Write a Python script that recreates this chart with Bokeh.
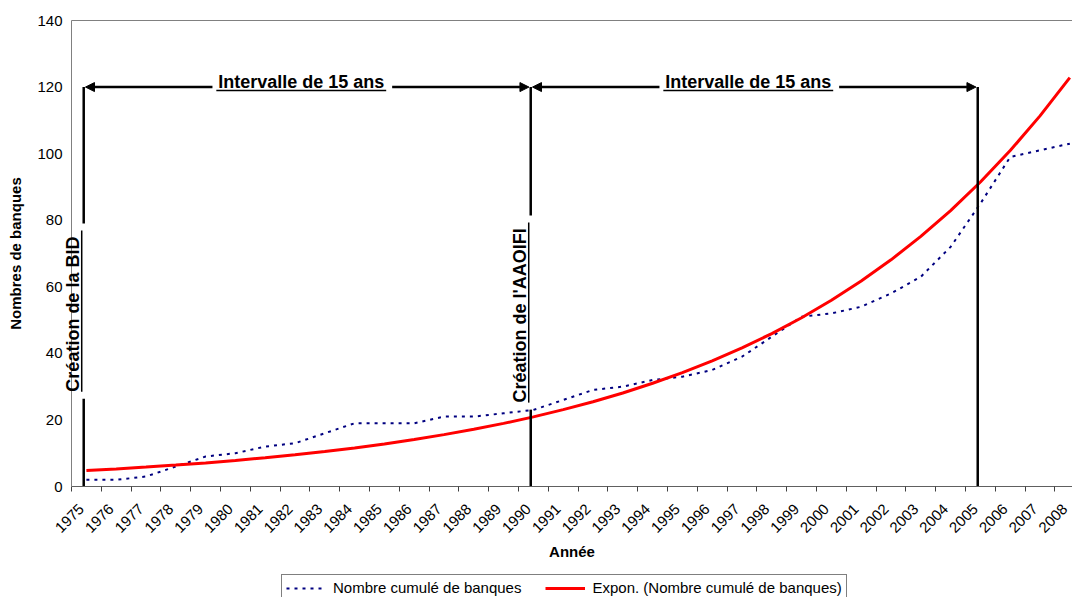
import math
from bokeh.plotting import figure
from bokeh.models import (Range1d, FixedTicker, LinearAxis, Label, Arrow, NormalHead,
                          Legend, LegendItem, PrintfTickFormatter)
from bokeh.embed import file_html
from bokeh.resources import INLINE

# ---------------- data ----------------
years = list(range(1975, 2009))
banks = [2, 2, 3, 6, 9, 10, 12, 13, 16, 19, 19, 19, 21, 21, 22, 23, 26, 29, 30, 32,
         33, 35, 39, 45, 51, 52, 54, 58, 63, 72, 85, 99, 101, 103]
trend = [4.79, 5.28, 5.83, 6.43, 7.09, 7.83, 8.63, 9.53, 10.51, 11.60, 12.80, 14.12,
         15.58, 17.19, 18.96, 20.92, 23.09, 25.47, 28.10, 31.01, 34.21, 37.75, 41.65,
         45.95, 50.70, 55.94, 61.72, 68.10, 75.14, 82.90, 91.47, 100.92, 111.35, 122.86]
y_ticks = [0, 20, 40, 60, 80, 100, 120, 140]
series_names = ["Nombre cumulé de banques", "Expon. (Nombre cumulé de banques)"]
event_years = [1975, 1990, 2005]
event_labels = ["Création  de la BID", "Création  de l'AAOIFI"]
event_label_span = [(28.5, 76.9), (25.2, 79.3)]
event_top = 120
interval_label = "Intervalle de 15 ans"
x_title = "Année"
y_title = "Nombres de banques"

FONT = "Liberation Sans"
W, H = 1072, 597
LEFT, TOP, ZERO_Y = 71, 20, 486          # page pixels: plot-area left, value 140, value 0
Y_TOP = y_ticks[-1]
PX_PER_UNIT = (ZERO_Y - TOP) / float(Y_TOP)
Y_MIN = -(H - ZERO_Y) / PX_PER_UNIT       # frame reaches the bottom of the page
Y_MAX = Y_TOP + TOP / PX_PER_UNIT         # ... and the top of the page
AX0, X1 = years[0] - 0.5, 2008.09         # plot-area left edge, right edge
PX_PER_YEAR = (W - LEFT) / (X1 - AX0)
X0 = AX0 - LEFT / PX_PER_YEAR             # frame reaches the left of the page
LABEL_SHIFT = 5 / PX_PER_YEAR             # rotated year labels sit a little left

p = figure(width=W, height=H, output_backend="svg", toolbar_location=None,
           x_range=Range1d(X0, X1), y_range=Range1d(Y_MIN, Y_MAX),
           min_border_left=0, min_border_right=0, min_border_top=0,
           min_border_bottom=0, outline_line_color=None)
p.grid.grid_line_color = None
p.background_fill_color = "white"
p.border_fill_color = "white"

# x axis, pinned at value 0
xa = p.xaxis[0]
xa.fixed_location = 0
xa.bounds = (AX0, X1)
xa.ticker = FixedTicker(ticks=[y - LABEL_SHIFT for y in years],
                        minor_ticks=[y - 0.5 for y in years] + [years[-1] + 0.5])
xa.formatter = PrintfTickFormatter(format="%.0f")
xa.major_tick_out = 0
xa.major_tick_in = 0
xa.minor_tick_out = 5
xa.minor_tick_in = 0
xa.minor_tick_line_color = "#404040"
xa.axis_line_color = "#606060"
xa.major_label_orientation = math.pi / 4
xa.major_label_text_font = FONT
xa.major_label_text_font_size = "15px"
xa.major_label_text_color = "black"
xa.major_label_standoff = 15
xa.axis_label = x_title
xa.axis_label_text_font = FONT
xa.axis_label_text_font_style = "bold"
xa.axis_label_text_font_size = "15px"
xa.axis_label_text_color = "black"
xa.axis_label_standoff = 3

# y axis, pinned at the plot-area left edge
ya = p.yaxis[0]
ya.fixed_location = AX0
ya.bounds = (0, Y_TOP)
ya.ticker = FixedTicker(ticks=y_ticks)
ya.major_tick_out = 0
ya.major_tick_in = 0
ya.minor_tick_out = 0
ya.minor_tick_in = 0
ya.axis_line_color = "#808080"
ya.major_label_text_font = FONT
ya.major_label_text_font_size = "15px"
ya.major_label_text_color = "black"
ya.major_label_standoff = 9
ya.axis_label = y_title
ya.axis_label_text_font = FONT
ya.axis_label_text_font_style = "bold"
ya.axis_label_text_font_size = "15px"
ya.axis_label_text_color = "black"
ya.axis_label_standoff = 10

# top border of the plot area
top = LinearAxis(ticker=FixedTicker(ticks=[]), axis_line_color="#808080",
                 fixed_location=Y_TOP, bounds=(AX0, X1),
                 major_tick_out=0, major_tick_in=0, minor_tick_out=0, minor_tick_in=0,
                 major_label_text_font_size="0px")
p.add_layout(top, "above")

# series
r_blue = p.line(years, banks, line_color="#000080", line_width=2, line_dash="3 5")
r_red = p.line(years, trend, line_color="#ff0000", line_width=3)

# event lines (with gaps where the vertical labels sit)
shift = -0.09
gap = 7 / PX_PER_UNIT
x0s, y0s, x1s, y1s = [], [], [], []
for i, ey in enumerate(event_years):
    lx = ey + shift
    if i < len(event_labels):
        s, e = event_label_span[i]
        x0s += [lx, lx]; y0s += [0, e + gap]; x1s += [lx, lx]; y1s += [s - gap, event_top]
    else:
        x0s.append(lx); y0s.append(0); x1s.append(lx); y1s.append(event_top)
p.segment(x0s, y0s, x1s, y1s, line_color="black", line_width=2.5)

# vertical labels with underline
ul_x0, ul_y0, ul_x1, ul_y1 = [], [], [], []
for i, txt in enumerate(event_labels):
    lx = event_years[i] + shift
    s, e = event_label_span[i]
    p.add_layout(Label(x=lx - 10.5 / PX_PER_YEAR, y=s, text=txt, angle=math.pi / 2,
                       text_align="left", text_baseline="middle",
                       text_font=FONT, text_font_style="bold", text_font_size="18px",
                       text_color="black"))
    ux = lx - 2 / PX_PER_YEAR
    ul_x0.append(ux); ul_x1.append(ux)
    ul_y0.append(s); ul_y1.append(e)

# interval arrows + labels
for a, b in zip(event_years[:-1], event_years[1:]):
    la, lb = a + shift, b + shift
    c = (la + lb) / 2 - 0.2
    p.add_layout(Label(x=c, y=event_top + 5.5 / PX_PER_UNIT, text=interval_label,
                       text_align="center", text_baseline="middle", text_font=FONT,
                       text_font_style="bold", text_font_size="18px",
                       text_color="black"))
    ul_x0.append(c - 2.85); ul_x1.append(c + 2.85)
    ul_y0.append(event_top - 3.5 / PX_PER_UNIT); ul_y1.append(event_top - 3.5 / PX_PER_UNIT)
    p.add_layout(Arrow(end=NormalHead(size=9, fill_color="black", line_color="black",
                                      line_width=1),
                       x_start=c - 2.98, y_start=event_top, x_end=la + 0.06,
                       y_end=event_top, line_color="black", line_width=2.5))
    p.add_layout(Arrow(end=NormalHead(size=9, fill_color="black", line_color="black",
                                      line_width=1),
                       x_start=c + 3.05, y_start=event_top, x_end=lb - 0.06,
                       y_end=event_top, line_color="black", line_width=2.5))
p.segment(ul_x0, ul_y0, ul_x1, ul_y1, line_color="black", line_width=1.5)

# legend (below the axis title, bottom edge cut by the page)
legend = Legend(items=[LegendItem(label=series_names[0], renderers=[r_blue]),
                       LegendItem(label=series_names[1], renderers=[r_red])],
                location=(LEFT + 210, -4), orientation="horizontal",
                border_line_color="black", border_line_width=1,
                background_fill_color="white", background_fill_alpha=1,
                padding=4, spacing=24, margin=0,
                glyph_width=40, glyph_height=16, label_height=16, label_standoff=7,
                label_text_font=FONT, label_text_font_size="15px",
                label_text_color="black")
p.add_layout(legend)

open("out.html", "w").write(file_html(p, INLINE, "chart"))
